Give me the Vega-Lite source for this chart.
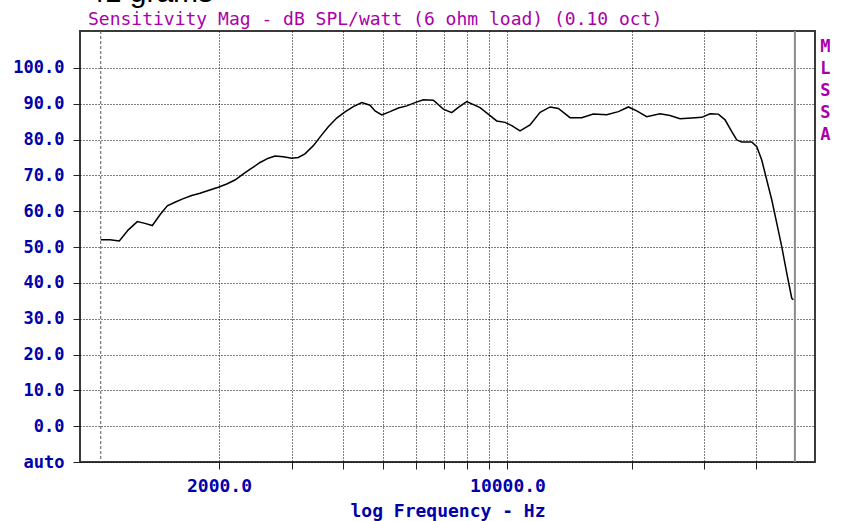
{
  "$schema": "https://vega.github.io/schema/vega-lite/v6.json",
  "width": 735,
  "height": 431,
  "autosize": {"type": "none"},
  "padding": {"left": 80, "top": 31, "right": 28, "bottom": 59},
  "background": "white",
  "config": {"view": {"stroke": "#3a3a3a", "strokeWidth": 2}},
  "title": {
    "text": "41 grams",
    "subtitle": "Sensitivity Mag - dB SPL/watt (6 ohm load) (0.10 oct)",
    "anchor": "start",
    "frame": "group",
    "font": "Liberation Sans",
    "fontSize": 30,
    "fontWeight": "normal",
    "color": "black",
    "subtitleFont": "DejaVu Sans Mono",
    "subtitleFontSize": 18,
    "subtitleColor": "#AA00AA",
    "subtitlePadding": 3,
    "offset": 1,
    "dx": 8
  },
  "datasets": {
    "curve": [
      {"f": 1034, "db": 52.0}, {"f": 1089, "db": 52.0}, {"f": 1147, "db": 51.7}, {"f": 1206, "db": 54.8},
      {"f": 1268, "db": 57.1}, {"f": 1323, "db": 56.6}, {"f": 1379, "db": 56.0}, {"f": 1439, "db": 59.0},
      {"f": 1499, "db": 61.5}, {"f": 1564, "db": 62.5}, {"f": 1639, "db": 63.5}, {"f": 1718, "db": 64.4},
      {"f": 1799, "db": 65.0}, {"f": 1884, "db": 65.8}, {"f": 1992, "db": 66.7}, {"f": 2088, "db": 67.6},
      {"f": 2186, "db": 68.7}, {"f": 2291, "db": 70.4}, {"f": 2401, "db": 72.0}, {"f": 2515, "db": 73.6},
      {"f": 2634, "db": 74.8}, {"f": 2734, "db": 75.4}, {"f": 2862, "db": 75.2}, {"f": 3001, "db": 74.8},
      {"f": 3112, "db": 75.0}, {"f": 3231, "db": 76.0}, {"f": 3385, "db": 78.3}, {"f": 3548, "db": 81.3},
      {"f": 3681, "db": 83.6}, {"f": 3857, "db": 86.0}, {"f": 4040, "db": 87.7}, {"f": 4231, "db": 89.2},
      {"f": 4436, "db": 90.3}, {"f": 4645, "db": 89.6}, {"f": 4776, "db": 88.0}, {"f": 4959, "db": 86.9},
      {"f": 5194, "db": 87.8}, {"f": 5440, "db": 88.8}, {"f": 5700, "db": 89.4}, {"f": 5970, "db": 90.3},
      {"f": 6254, "db": 91.1}, {"f": 6613, "db": 91.0}, {"f": 6993, "db": 88.5}, {"f": 7327, "db": 87.5},
      {"f": 7602, "db": 89.0}, {"f": 7967, "db": 90.6}, {"f": 8581, "db": 88.9}, {"f": 9074, "db": 86.7},
      {"f": 9417, "db": 85.2}, {"f": 9864, "db": 84.8}, {"f": 10240, "db": 83.9}, {"f": 10725, "db": 82.4},
      {"f": 11340, "db": 84.1}, {"f": 11995, "db": 87.6}, {"f": 12683, "db": 89.1}, {"f": 13282, "db": 88.7},
      {"f": 14175, "db": 86.1}, {"f": 15131, "db": 86.1}, {"f": 16144, "db": 87.1}, {"f": 17398, "db": 86.9},
      {"f": 18562, "db": 87.8}, {"f": 19628, "db": 89.1}, {"f": 20565, "db": 88.0}, {"f": 21744, "db": 86.4},
      {"f": 23419, "db": 87.2}, {"f": 24762, "db": 86.7}, {"f": 26186, "db": 85.8}, {"f": 27955, "db": 86.0},
      {"f": 29557, "db": 86.2}, {"f": 30960, "db": 87.2}, {"f": 32431, "db": 87.1}, {"f": 33663, "db": 85.5},
      {"f": 34949, "db": 82.2}, {"f": 35937, "db": 79.9}, {"f": 36952, "db": 79.3}, {"f": 39070, "db": 79.3},
      {"f": 40176, "db": 78.0}, {"f": 41310, "db": 74.3}, {"f": 42478, "db": 68.7}, {"f": 43680, "db": 63.2},
      {"f": 44916, "db": 56.7}, {"f": 46185, "db": 50.1}, {"f": 47495, "db": 42.7}, {"f": 48836, "db": 35.7},
      {"f": 49300, "db": 35.3}
    ]
  },
  "layer": [
    {
      "data": {"values": [{"f": 1034, "kind": "start"}]},
      "mark": {"type": "rule", "color": "#5a5a5a", "strokeDash": [3, 2], "strokeWidth": 1},
      "encoding": {
        "x": {
          "field": "f",
          "type": "quantitative",
          "scale": {"type": "log", "domain": [921, 55600], "nice": false, "zero": false},
          "axis": {
            "title": "log Frequency - Hz",
            "values": [2000, 3000, 4000, 5000, 6000, 7000, 8000, 9000, 10000, 20000, 30000, 40000],
            "tickCount": 30,
            "labelExpr": "datum.value == 2000 || datum.value == 10000 ? format(datum.value, '.1f') : ''",
            "labelOverlap": false,
            "labelBound": false,
            "labelFlush": false,
            "labelFont": "DejaVu Sans Mono",
            "labelFontSize": 18,
            "labelFontWeight": "bold",
            "labelColor": "#0000AA",
            "labelPadding": 8,
            "tickSize": 7,
            "tickColor": "#222222",
            "tickWidth": 1,
            "domain": false,
            "grid": true,
            "gridColor": "#000000",
            "gridOpacity": 1,
            "gridDash": [1, 2],
            "gridWidth": 1,
            "titleFont": "DejaVu Sans Mono",
            "titleFontSize": 18,
            "titleFontWeight": "bold",
            "titleColor": "#0000AA",
            "titlePadding": 7
          }
        }
      }
    },
    {
      "data": {"values": [{"f": 49700, "kind": "end"}]},
      "mark": {"type": "rule", "color": "#8c8c8c", "strokeWidth": 2},
      "encoding": {"x": {"field": "f", "type": "quantitative"}}
    },
    {
      "data": {"name": "curve"},
      "mark": {"type": "line", "color": "#000000", "strokeWidth": 1.5},
      "encoding": {
        "x": {"field": "f", "type": "quantitative"},
        "y": {
          "field": "db",
          "type": "quantitative",
          "scale": {"domain": [-10, 110.3], "nice": false, "zero": false},
          "axis": {
            "title": null,
            "values": [-10, 0, 10, 20, 30, 40, 50, 60, 70, 80, 90, 100],
            "tickCount": 30,
            "labelExpr": "datum.value == -10 ? 'auto' : format(datum.value, '.1f')",
            "labelOverlap": false,
            "labelBound": false,
            "labelFlush": false,
            "labelFont": "DejaVu Sans Mono",
            "labelFontSize": 17,
            "labelFontWeight": "bold",
            "labelColor": "#0000AA",
            "labelPadding": 9,
            "tickSize": 7,
            "tickColor": "#222222",
            "tickWidth": 1,
            "domain": false,
            "grid": true,
            "gridColor": "#000000",
            "gridOpacity": 1,
            "gridDash": [1, 2],
            "gridWidth": 1
          }
        }
      }
    },
    {
      "data": {"values": [{"f": 58950, "db": 108.1, "label": "M\nL\nS\nS\nA"}]},
      "mark": {
        "type": "text",
        "lineBreak": "\n",
        "lineHeight": 22,
        "align": "center",
        "baseline": "top",
        "font": "DejaVu Sans Mono",
        "fontSize": 17,
        "fontWeight": "bold",
        "color": "#AA00AA"
      },
      "encoding": {
        "x": {"field": "f", "type": "quantitative"},
        "y": {"field": "db", "type": "quantitative"},
        "text": {"field": "label"}
      }
    }
  ]
}
